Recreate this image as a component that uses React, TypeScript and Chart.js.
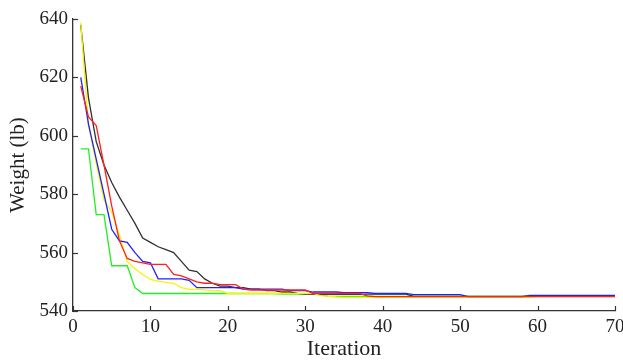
import React, { useEffect, useRef } from "react";
import { Chart, registerables } from "chart.js";

Chart.register(...registerables);

const iterations = [
  1, 2, 3, 4, 5, 6, 7, 8, 9, 10,
  11, 12, 13, 14, 15, 16, 17, 18, 19, 20,
  21, 22, 23, 24, 25, 26, 27, 28, 29, 30,
  31, 32, 33, 34, 35, 36, 37, 38, 39, 40,
  41, 42, 43, 44, 45, 46, 47, 48, 49, 50,
  51, 52, 53, 54, 55, 56, 57, 58, 59, 60,
  61, 62, 63, 64, 65, 66, 67, 68, 69, 70,
];

const blackSeries = [
  638, 613, 598, 590, 584, 579, 574.5, 570, 565, 563.5,
  562, 561, 560, 557, 554, 553.5, 551, 549.5, 548.5, 548.5,
  548, 548, 547.5, 547.5, 547, 547, 546.5, 546.5, 546, 545.7,
  545.7, 545.7, 545.7, 545.7, 545.7, 545.7, 545.7, 545.8, 545.8, 545.8,
  545.8, 545.8, 545.8, 545, 545, 545, 545, 545, 545, 545,
  545, 545, 545, 545, 545, 545, 545, 545, 545, 545,
  545, 545, 545, 545, 545, 545, 545, 545, 545, 545,
];

const redSeries = [
  617, 606.5, 603.5, 590, 576, 564, 558, 557, 556.5, 556,
  556, 556, 552.5, 552, 551, 550, 549.5, 549.5, 549, 549,
  549, 547.5, 547.2, 547.2, 547.2, 547.2, 547.2, 547.2, 547.2, 547.2,
  546, 546, 546, 546, 546, 546, 546, 545.2, 544.9, 544.9,
  544.9, 544.9, 544.9, 544.9, 544.9, 544.9, 544.9, 544.9, 544.9, 544.9,
  544.9, 544.9, 544.9, 544.9, 544.9, 544.9, 544.9, 544.9, 544.9, 544.9,
  544.9, 544.9, 544.9, 544.9, 544.9, 544.9, 544.9, 544.9, 544.9, 544.9,
];

const blueSeries = [
  620, 604, 592, 580, 568, 564, 563.5, 560, 557, 556.5,
  551, 551, 551, 551, 550.5, 548, 548, 548, 548, 548,
  548, 547.5, 547.5, 547.5, 547.5, 547.5, 547.5, 547, 547, 547,
  546.5, 546.5, 546.5, 546.5, 546.3, 546.3, 546.3, 546.3, 546, 546,
  546, 546, 546, 545.6, 545.6, 545.6, 545.6, 545.6, 545.6, 545.6,
  544.9, 544.9, 544.9, 544.9, 544.9, 544.9, 544.9, 544.9, 545.3, 545.3,
  545.3, 545.3, 545.3, 545.3, 545.3, 545.3, 545.3, 545.3, 545.3, 545.3,
];

const yellowSeries = [
  638.7, 603.5, 590.5, 578, 574, 566, 557, 554.5, 552.5, 550.8,
  550.2, 549.8, 549.5, 548, 547.4, 547.4, 547.2, 547, 547, 546,
  546, 546, 546, 546, 546, 546, 546, 546, 546, 546,
  546, 545.3, 545, 544.8, 544.7, 544.7, 544.7, 544.7, 544.7, 544.7,
  544.7, 544.7, 544.7, 544.7, 544.7, 544.7, 544.7, 544.7, 544.7, 544.7,
  544.7, 544.7, 544.7, 544.7, 544.7, 544.7, 544.7, 544.7, 544.7, 544.9,
  544.9, 544.9, 544.9, 544.9, 544.9, 544.9, 544.9, 544.9, 544.9, 544.9,
];

const greenSeries = [
  595.5, 595.5, 573, 573, 555.5, 555.5, 555.5, 548, 546, 546,
  546, 546, 546, 546, 546, 546, 546, 546, 546, 546,
  546, 546, 546, 546, 546, 546, 545.8, 545.8, 545.8, 545.8,
  545.8, 545.5, 545, 545, 545, 545, 545, 545, 545, 545,
  545, 545, 545, 545, 545, 545, 545, 545, 545, 545,
  545, 545, 545, 545, 545, 545, 545, 545, 545, 545,
  545, 545, 545, 545, 545, 545, 545, 545, 545, 545,
];

const xTitle = "Iteration";
const yTitle = "Weight (lb)";

const AXIS_COLOR = "#333333";
const TEXT_COLOR = "#222222";
const FONT = "'Liberation Serif', 'DejaVu Serif', serif";

const innerTicks = {
  id: "innerTicks",
  afterDraw(chart: any) {
    const { ctx, chartArea } = chart;
    const xs = chart.scales.x;
    const ys = chart.scales.y;
    ctx.save();
    ctx.strokeStyle = AXIS_COLOR;
    ctx.lineWidth = 1.2;
    xs.ticks.forEach((t: any) => {
      const px = Math.round(xs.getPixelForValue(t.value)) + 0.5;
      ctx.beginPath();
      ctx.moveTo(px, chartArea.bottom);
      ctx.lineTo(px, chartArea.bottom - 5);
      ctx.stroke();
    });
    ys.ticks.forEach((t: any) => {
      const py = Math.round(ys.getPixelForValue(t.value)) + 0.5;
      ctx.beginPath();
      ctx.moveTo(chartArea.left, py);
      ctx.lineTo(chartArea.left + 5, py);
      ctx.stroke();
    });
    ctx.restore();
  },
};

function toPoints(values: number[]) {
  return values.map((v, i) => ({ x: iterations[i], y: v }));
}

export default function App() {
  const canvasRef = useRef<HTMLCanvasElement | null>(null);

  useEffect(() => {
    document.body.style.margin = "0";
    const canvas = canvasRef.current;
    if (!canvas) return;
    const mk = (label: string, data: number[], color: string) => ({
      label,
      data: toPoints(data),
      borderColor: color,
      backgroundColor: color,
      borderWidth: 1.3,
      pointRadius: 0,
      tension: 0,
      fill: false,
    });
    const chart = new Chart(canvas, {
      type: "line",
      data: {
        datasets: [
          mk("red", redSeries, "#ff2020"),
          mk("blue", blueSeries, "#2020ff"),
          mk("yellow", yellowSeries, "#f5f500"),
          mk("black", blackSeries, "#303030"),
          mk("green", greenSeries, "#20f020"),
        ],
      },
      options: {
        animation: false,
        responsive: false,
        events: [],
        layout: { padding: { top: 19, right: 8, left: 0, bottom: 0 } },
        plugins: {
          legend: { display: false },
          tooltip: { enabled: false },
        },
        scales: {
          x: {
            type: "linear",
            min: 0,
            max: 70,
            afterFit: (s: any) => {
              s.height = 51;
              s.paddingRight = 0;
              s.paddingLeft = 0;
            },
            ticks: {
              stepSize: 10,
              color: TEXT_COLOR,
              padding: 5,
              maxRotation: 0,
              font: { family: FONT, size: 19 },
            },
            grid: { display: false, drawTicks: false },
            border: { display: true, color: AXIS_COLOR, width: 1.3 },
            title: {
              display: true,
              text: xTitle,
              color: TEXT_COLOR,
              font: { family: FONT, size: 22 },
              padding: { top: 0, bottom: 0 },
            },
          },
          y: {
            type: "linear",
            min: 540,
            max: 640,
            afterFit: (s: any) => {
              s.width = 73;
              s.paddingTop = 0;
              s.paddingBottom = 0;
            },
            ticks: {
              stepSize: 20,
              color: TEXT_COLOR,
              padding: 5,
              font: { family: FONT, size: 19 },
            },
            grid: { display: false, drawTicks: false },
            border: { display: true, color: AXIS_COLOR, width: 1.3 },
            title: {
              display: true,
              text: yTitle,
              color: TEXT_COLOR,
              font: { family: FONT, size: 21 },
              padding: { top: 6, bottom: 0 },
            },
          },
        },
      },
      plugins: [innerTicks],
    });
    return () => chart.destroy();
  }, []);

  return (
    <div style={{ width: 623, height: 362, position: "relative" }}>
      <canvas ref={canvasRef} width={623} height={362} style={{ display: "block" }} />
    </div>
  );
}
